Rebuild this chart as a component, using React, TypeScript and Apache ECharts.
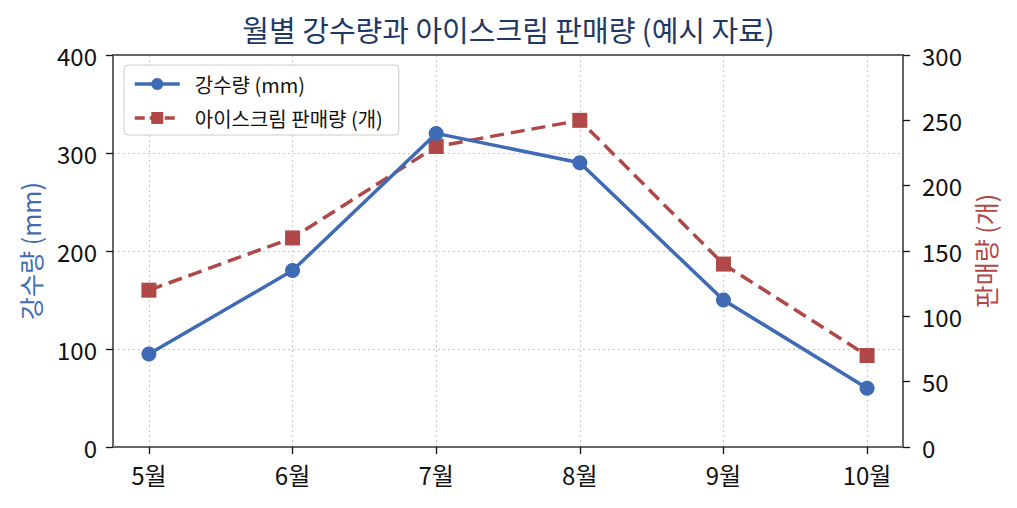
import { useEffect, useRef } from "react";
import * as echarts from "echarts";

const months = ["5월", "6월", "7월", "8월", "9월", "10월"];
const rainfall = [95, 180, 320, 290, 150, 60];
const iceCream = [120, 160, 230, 250, 140, 70];
const monthTicks = [0, 1, 2, 3, 4, 5];

const BLUE = "#3e6bb4";
const RED = "#b04848";
const FRAME = "#666666";
const GRIDLINE = "#c8c8c8";
const FONT = "'Noto Sans CJK KR', 'Noto Sans', sans-serif";

export default function App() {
  const ref = useRef<HTMLDivElement>(null);

  useEffect(() => {
    document.body.style.margin = "0";
    if (!ref.current) return;
    const chart = echarts.init(ref.current, undefined, { renderer: "svg" });

    const frameLine = { show: true, onZero: false, lineStyle: { color: FRAME, width: 2 } };
    const tick = { show: true, length: 7, lineStyle: { color: "#111111", width: 1.3 } };
    const dotted = { show: true, lineStyle: { color: GRIDLINE, type: [2, 3], width: 1 } };

    chart.setOption({
      animation: false,
      backgroundColor: "#ffffff",
      textStyle: { fontFamily: FONT },
      title: {
        text: "월별 강수량과 아이스크림 판매량 (예시 자료)",
        left: "center",
        top: 9,
        textStyle: { fontFamily: FONT, fontSize: 29, fontWeight: "normal", color: "#1f3864" },
      },
      grid: { left: 113, right: 114, top: 55, bottom: 61 },
      legend: {
        orient: "vertical",
        left: 124,
        top: 65,
        padding: [9, 16, 7, 9],
        itemWidth: 45,
        itemHeight: 15,
        itemGap: 14,
        borderColor: "#cccccc",
        borderWidth: 1,
        borderRadius: 4,
        backgroundColor: "rgba(255,255,255,0.85)",
        textStyle: { fontFamily: FONT, fontSize: 20, color: "#111111", padding: [0, 0, 0, 10] },
        data: [
          { name: "강수량 (mm)", lineStyle: { width: 3.5 } },
          { name: "아이스크림 판매량 (개)", lineStyle: { width: 3.5, type: [10, 5] } },
        ],
      },
      xAxis: [
        {
          type: "value",
          min: -0.25,
          max: 5.25,
          axisLine: frameLine,
          axisTick: { ...tick, customValues: monthTicks },
          axisLabel: {
            customValues: monthTicks,
            formatter: (v: number) => months[Math.round(v)] ?? "",
            fontSize: 24,
            color: "#111111",
            margin: 15,
            fontFamily: FONT,
          },
          splitLine: dotted,
        },
        {
          type: "value",
          position: "top",
          min: -0.25,
          max: 5.25,
          axisLine: frameLine,
          axisTick: { show: false },
          axisLabel: { show: false },
          splitLine: { show: false },
        },
      ],
      yAxis: [
        {
          type: "value",
          min: 0,
          max: 400,
          interval: 100,
          name: "강수량 (mm)",
          nameLocation: "middle",
          nameGap: 71,
          nameRotate: 90,
          nameTextStyle: { color: BLUE, fontSize: 25, fontFamily: FONT },
          axisLine: frameLine,
          axisTick: tick,
          axisLabel: { fontSize: 24, color: "#111111", margin: 16, fontFamily: FONT },
          splitLine: dotted,
        },
        {
          type: "value",
          min: 0,
          max: 300,
          interval: 50,
          position: "right",
          name: "판매량 (개)",
          nameLocation: "middle",
          nameGap: 69,
          nameRotate: 90,
          nameTextStyle: { color: RED, fontSize: 25, fontFamily: FONT },
          axisLine: frameLine,
          axisTick: tick,
          axisLabel: { fontSize: 24, color: "#111111", margin: 19, fontFamily: FONT },
          splitLine: { show: false },
        },
      ],
      series: [
        {
          name: "아이스크림 판매량 (개)",
          type: "line",
          yAxisIndex: 1,
          symbol: "rect",
          symbolSize: 15,
          lineStyle: { color: RED, width: 3.5, type: [14, 7] },
          itemStyle: { color: RED },
          data: iceCream.map((v, i) => [i, v]),
          z: 2,
        },
        {
          name: "강수량 (mm)",
          type: "line",
          yAxisIndex: 0,
          symbol: "circle",
          symbolSize: 15,
          lineStyle: { color: BLUE, width: 3.5 },
          itemStyle: { color: BLUE },
          data: rainfall.map((v, i) => [i, v]),
          z: 3,
        },
      ],
    });

    return () => chart.dispose();
  }, []);

  return <div ref={ref} style={{ width: 1017, height: 508 }} />;
}
